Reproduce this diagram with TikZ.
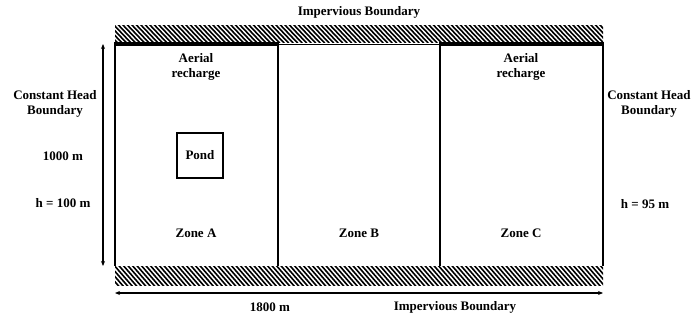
\documentclass[tikz,border=0pt]{standalone}
\usepackage{fontspec}
\setmainfont{Liberation Serif}
\usetikzlibrary{arrows.meta}
\begin{document}
\begin{tikzpicture}[x=1pt,y=-1pt,
  lbl/.style={font=\fontsize{13}{14.5}\selectfont\bfseries, align=center, inner sep=0pt},
  hatchline/.style={line width=1.6pt},
  wall/.style={line width=1.8pt},
  dim/.style={line width=1.2pt, {Stealth[length=5pt,width=4pt]}-{Stealth[length=5pt,width=4pt]}}]
\useasboundingbox (0,0) rectangle (692,320);
% hatched bands
\begin{scope}
  \clip (115,26) rectangle (603,43);
  \foreach \x in {95,99.5,...,610} \draw[hatchline] (\x,24) -- (\x+20,45);
\end{scope}
\begin{scope}
  \clip (115,266) rectangle (603,285);
  \foreach \x in {95,99.5,...,610} \draw[hatchline] (\x,264) -- (\x+20,287);
\end{scope}
% domain
\coordinate (tl) at (115,44);
\coordinate (tr) at (603,44);
\coordinate (bl) at (115,266);
\coordinate (br) at (603,266);
\coordinate (d1t) at (278,44);
\coordinate (d1b) at (278,266);
\coordinate (d2t) at (440,44);
\coordinate (d2b) at (440,266);
\draw[wall] (tl) -- (bl);
\draw[wall] (tr) -- (br);
\draw[wall] (d1t) -- (d1b);
\draw[wall] (d2t) -- (d2b);
\draw[line width=0.6pt] (d1t) -- (d2t);
\draw[line width=3.5pt] (114,44) -- (279,44);
\draw[line width=3.5pt] (439,44) -- (604,44);
% pond
\node[draw, line width=2.5pt, minimum width=46pt, minimum height=45pt, inner sep=0pt] (pond) at (200,155.5) {};
\node[lbl] (pondl) at (pond.center) {Pond};
% dimension arrows
\coordinate (vt) at (103,44);
\coordinate (vb) at (103,266);
\draw[dim] (vt) -- (vb);
\coordinate (hl) at (115,293);
\coordinate (hr) at (603,293);
\draw[dim] (hl) -- (hr);
% labels
\node[lbl] (impt) at (359,12) {Impervious Boundary};
\node[lbl] (impb) at (455,307) {Impervious Boundary};
\node[lbl] (len) at (270,307) {1800 m};
\node[lbl] (chl) at (55,104) {Constant Head\\Boundary};
\node[lbl] (chr) at (649,104) {Constant Head\\Boundary};
\node[lbl] (wid) at (63,156) {1000 m};
\node[lbl] (hl1) at (63,203) {h = 100 m};
\node[lbl] (hr1) at (645,204) {h = 95 m};
\node[lbl] (arA) at (196,67) {Aerial\\recharge};
\node[lbl] (arC) at (521,67) {Aerial\\recharge};
\node[lbl] (zA) at (196,233) {Zone A};
\node[lbl] (zB) at (359,233) {Zone B};
\node[lbl] (zC) at (521,233) {Zone C};
\end{tikzpicture}
\end{document}
